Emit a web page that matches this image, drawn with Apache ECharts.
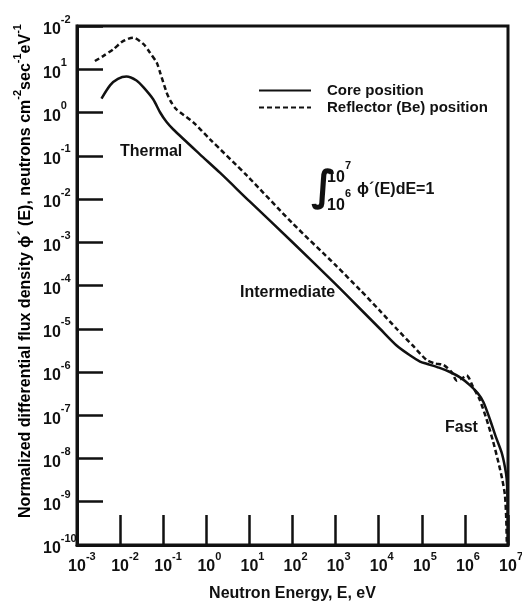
<!DOCTYPE html>
<html>
<head>
<meta charset="utf-8">
<script src="https://cdn.jsdelivr.net/npm/echarts@6/dist/echarts.min.js"></script>
<style>
  html, body { margin: 0; padding: 0; background: #fff; }
  #chart { width: 522px; height: 603px; }
</style>
</head>
<body>
<div id="chart"></div>
<script>
// Neutron energy (eV) and normalized differential flux for each position
const coreEnergy = [3.7e-3, 5.9e-3, 8.9e-3, 1.4e-2, 2.4e-2, 3.5e-2, 5.9e-2, 8.5e-2, 0.12, 0.17,
  0.71, 2.1, 10, 100, 1000, 3.7e3, 1.07e4, 2.6e4, 5.4e4, 9.1e4, 1.29e5, 2.5e5, 4.5e5, 7.9e5,
  1.32e6, 2.0e6, 2.7e6, 3.8e6, 5.2e6, 7.1e6, 8.5e6, 9.3e6, 9.8e6, 1.0e7];
const coreFlux = [2.1, 4.3, 6.0, 6.8, 5.5, 3.8, 2.0, 1.0, 0.60, 0.41,
  0.108, 0.040, 8.9e-3, 1.0e-3, 1.07e-4, 2.9e-5, 1.0e-5, 4.1e-6, 2.4e-6, 1.74e-6, 1.55e-6, 1.26e-6, 1.0e-6, 7.4e-7,
  4.9e-7, 3.2e-7, 2.0e-7, 8.1e-8, 3.2e-8, 1.38e-8, 6.3e-9, 3.4e-9, 1.0e-9, 1.0e-10];

const reflectorEnergy = [2.6e-3, 4.1e-3, 6.9e-3, 1.17e-2, 2.0e-2, 3.5e-2, 4.9e-2, 7.1e-2, 8.5e-2, 0.12,
  0.145, 0.20, 0.50, 1.22, 8.7, 100, 1000, 3.7e3, 1.07e4, 2.6e4, 6.3e4, 1.29e5, 2.0e5, 3.2e5,
  4.9e5, 6.5e5, 8.5e5, 1.1e6, 1.55e6, 2.2e6, 3.2e6, 4.5e6, 6.0e6, 7.4e6, 8.5e6, 9.1e6, 9.4e6];
const reflectorFlux = [15.5, 20.4, 28.8, 44.7, 53.7, 38.0, 24.5, 14.1, 8.3, 2.9,
  1.9, 1.2, 0.59, 0.24, 0.035, 2.75e-3, 2.95e-4, 7.9e-5, 2.6e-5, 1.0e-5, 4.0e-6, 1.9e-6, 1.58e-6, 1.45e-6,
  1.0e-6, 6.3e-7, 7.1e-7, 8.3e-7, 4.5e-7, 2.3e-7, 7.9e-8, 2.5e-8, 8.1e-9, 3.2e-9, 1.41e-9, 4.0e-10, 1.0e-10];

const seriesNames = ['Core position', 'Reflector (Be) position'];

// Decade exponents and the superscripts printed at each tick
const xTickPowers = [-3, -2, -1, 0, 1, 2, 3, 4, 5, 6, 7];
const xTickLabels = ['-3', '-2', '-1', '0', '1', '2', '3', '4', '5', '6', '7'];
const yTickPowers = [-10, -9, -8, -7, -6, -5, -4, -3, -2, -1, 0, 1, 2];
const yTickLabels = ['-10', '-9', '-8', '-7', '-6', '-5', '-4', '-3', '-2', '-1', '0', '1', '-2'];

const FONT = 'Liberation Sans, Arial, Helvetica, sans-serif';
const INK = '#111';

function pairs(xs, ys) { return xs.map((x, i) => [x, ys[i]]); }

// "10" with a raised exponent; `balance` adds an invisible copy of the
// exponent in front so that the "10" itself sits centred on the tick
function powerLabel(powers, labels, balance) {
  return function (v) {
    const p = Math.round(Math.log10(v));
    const i = powers.indexOf(p);
    if (i < 0) return '';
    return (balance ? '{h|' + labels[i] + '}' : '') + '{b|10}{e|' + labels[i] + '}';
  };
}

const tickRich = {
  b: { fontFamily: FONT, fontWeight: 'bold', fontSize: 16, color: INK, lineHeight: 24, verticalAlign: 'bottom' },
  e: { fontFamily: FONT, fontWeight: 'bold', fontSize: 11, color: INK, lineHeight: 12, verticalAlign: 'top' },
  h: { fontFamily: FONT, fontWeight: 'bold', fontSize: 11, color: 'transparent', lineHeight: 12, verticalAlign: 'top' }
};

const nameRich = {
  n: { fontFamily: FONT, fontWeight: 'bold', fontSize: 16, color: INK, lineHeight: 22, verticalAlign: 'bottom' },
  s: { fontFamily: FONT, fontWeight: 'bold', fontSize: 11, color: INK, lineHeight: 12, verticalAlign: 'top' }
};

const chart = echarts.init(document.getElementById('chart'), null, { renderer: 'canvas' });

const boldText = (x, y, text, size) => ({
  type: 'text', x: x, y: y,
  style: { text: text, font: 'bold ' + (size || 16) + 'px ' + FONT, fill: INK, textVerticalAlign: 'middle' }
});

chart.setOption({
  backgroundColor: '#fff',
  animation: false,
  grid: {
    left: 77, right: 14, top: 26, bottom: 58,
    containLabel: false, outerBoundsMode: 'none',
    show: true, borderColor: INK, borderWidth: 3, backgroundColor: 'transparent'
  },
  legend: {
    orient: 'vertical',
    left: 253, top: 78,
    itemWidth: 52, itemHeight: 12, itemGap: 2,
    itemStyle: { opacity: 0 },
    textStyle: { fontFamily: FONT, fontWeight: 'bold', fontSize: 15, lineHeight: 15, color: INK, padding: [0, 0, 0, 11] },
    data: seriesNames
  },
  xAxis: {
    type: 'log', logBase: 10, min: 1e-3, max: 1e7, interval: 1,
    name: 'Neutron Energy, E, eV',
    nameLocation: 'middle', nameGap: 41,
    nameTextStyle: { fontFamily: FONT, fontWeight: 'bold', fontSize: 16, color: INK },
    axisLine: { lineStyle: { color: INK, width: 3 } },
    axisTick: { inside: true, length: 30, lineStyle: { color: INK, width: 2.5 } },
    splitLine: { show: false },
    axisLabel: { formatter: powerLabel(xTickPowers, xTickLabels, true), rich: tickRich, margin: 6, interval: 0 }
  },
  yAxis: {
    type: 'log', logBase: 10, min: 1e-10, max: 1e2, interval: 1,
    axisLine: { lineStyle: { color: INK, width: 3 } },
    axisTick: { inside: true, length: 26, lineStyle: { color: INK, width: 2.5 } },
    splitLine: { show: false },
    axisLabel: { formatter: powerLabel(yTickPowers, yTickLabels, false), rich: tickRich, margin: 34, align: 'left', interval: 0 }
  },
  series: [
    {
      name: seriesNames[0], type: 'line', data: pairs(coreEnergy, coreFlux),
      showSymbol: false, symbol: 'none', smooth: 0.25,
      lineStyle: { color: INK, width: 2.5, type: 'solid' }, itemStyle: { color: INK }
    },
    {
      name: seriesNames[1], type: 'line', data: pairs(reflectorEnergy, reflectorFlux),
      showSymbol: false, symbol: 'none', smooth: 0.25,
      lineStyle: { color: INK, width: 2.5, type: [5, 3] }, itemStyle: { color: INK }
    }
  ],
  graphic: [
    {
      type: 'text', x: 23, y: 271, rotation: Math.PI / 2,
      style: {
        text: '{n|Normalized differential flux density \u03D5\u00B4 (E), neutrons cm}{s|-2}{n|sec}{s|-1}{n|eV}{s|-1}',
        rich: nameRich, align: 'center', verticalAlign: 'middle'
      }
    },
    boldText(120, 152, 'Thermal'),
    boldText(240, 293, 'Intermediate'),
    boldText(445, 428, 'Fast'),
    {
      type: 'text', x: 311, y: 189,
      style: { text: '\u222B', font: 'bold 42px DejaVu Sans', fill: INK, textVerticalAlign: 'middle' }
    },
    boldText(327, 178, '10', 16),
    boldText(345, 166, '7', 11),
    boldText(327, 206, '10', 16),
    boldText(345, 194, '6', 11),
    boldText(357, 190, '\u03D5\u00B4(E)dE=1', 16)
  ]
});
</script>
</body>
</html>
